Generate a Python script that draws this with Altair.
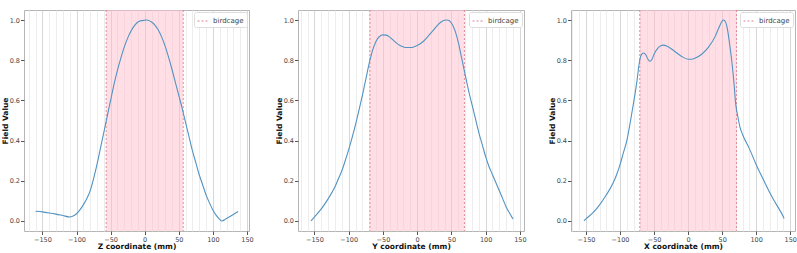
import altair as alt
import pandas as pd

# ---- data ----
z_pos = [-160, -150, -140, -130, -120, -110, -105, -100, -95, -90, -85, -80, -75, -70, -65, -60, -55, -50, -45, -40,
         -35, -30, -25, -20, -15, -10, -5, 0, 3, 5, 10, 15, 20, 25, 30, 35, 40, 45, 50, 55, 60, 65, 70, 75, 80, 85,
         90, 95, 100, 105, 110, 113, 120, 130, 137]
z_val = [0.048, 0.045, 0.040, 0.034, 0.027, 0.020, 0.025, 0.036, 0.055, 0.080, 0.11, 0.15, 0.21, 0.28, 0.36, 0.44,
         0.52, 0.60, 0.68, 0.75, 0.81, 0.865, 0.91, 0.945, 0.972, 0.99, 0.997, 0.999, 1.0, 0.999, 0.99, 0.975, 0.95,
         0.915, 0.87, 0.815, 0.755, 0.69, 0.625, 0.56, 0.49, 0.42, 0.35, 0.29, 0.23, 0.18, 0.13, 0.09, 0.055, 0.028,
         0.008, 0.0, 0.012, 0.032, 0.047]

y_pos = [-155, -150, -140, -130, -120, -115, -110, -105, -100, -95, -90, -85, -80, -75, -70, -65, -60, -55, -50, -45,
         -40, -35, -30, -25, -20, -15, -10, -5, 0, 5, 10, 15, 20, 25, 30, 35, 40, 43, 47, 50, 55, 60, 65, 70, 75, 80,
         85, 90, 95, 100, 105, 110, 115, 120, 125, 130, 135, 140]
y_val = [0.0, 0.02, 0.06, 0.11, 0.17, 0.21, 0.25, 0.30, 0.355, 0.415, 0.48, 0.55, 0.625, 0.705, 0.785, 0.85, 0.895,
         0.918, 0.926, 0.925, 0.915, 0.90, 0.885, 0.873, 0.866, 0.863, 0.863, 0.866, 0.873, 0.883, 0.897, 0.915,
         0.935, 0.955, 0.975, 0.99, 0.999, 1.0, 0.996, 0.985, 0.95, 0.89, 0.81, 0.73, 0.65, 0.58, 0.51, 0.44, 0.38,
         0.32, 0.27, 0.23, 0.19, 0.15, 0.11, 0.07, 0.038, 0.01]

x_pos = [-153, -150, -140, -130, -120, -110, -105, -100, -95, -90, -85, -80, -75, -72, -70, -68, -65, -62, -59, -56,
         -53, -50, -45, -40, -37, -30, -20, -10, 0, 5, 10, 20, 30, 40, 45, 50, 52, 55, 58, 61, 64, 67, 70, 73, 76, 80,
         90, 100, 110, 120, 130, 140, 141]
x_val = [0.0, 0.01, 0.04, 0.08, 0.13, 0.19, 0.23, 0.28, 0.34, 0.40, 0.49, 0.59, 0.70, 0.78, 0.815, 0.83, 0.836, 0.826,
         0.805, 0.795, 0.805, 0.83, 0.858, 0.872, 0.875, 0.868, 0.845, 0.82, 0.805, 0.805, 0.81, 0.83, 0.865, 0.92,
         0.96, 0.995, 1.0, 0.99, 0.95, 0.88, 0.80, 0.70, 0.58, 0.52, 0.47, 0.43, 0.36, 0.28, 0.21, 0.14, 0.08, 0.02,
         0.012]

z_cage = [-56.5, 56.5]
y_cage = [-69, 69]
x_cage = [-71, 71]

x_domains = [[-177, 153], [-174, 156], [-172, 157]]
titles = ["Z coordinate (mm)", "Y coordinate (mm)", "X coordinate (mm)"]
x_grid = list(range(-170, 160, 10))
y_ticks = [0.0, 0.2, 0.4, 0.6, 0.8, 1.0]
legend_label = "birdcage"

FONT = "DejaVu Sans"
CURVE = "#5293c2"
CAGE = "#e0808f"


def panel(pos, val, cage, dom, title, width):
    curve_df = pd.DataFrame({"pos": pos, "val": val})
    span_df = pd.DataFrame({"lo": [cage[0]], "hi": [cage[1]]})
    edge_df = pd.DataFrame({"pos": cage, "label": [legend_label] * len(cage)})

    xscale = alt.Scale(domain=dom, nice=False, zero=False)
    yscale = alt.Scale(domain=[-0.05, 1.05], nice=False, zero=False)

    xaxis = alt.Axis(
        values=x_grid,
        labelExpr="abs(datum.value) % 50 == 0 ? datum.label : ''",
        labelOverlap=False,
        labelFlush=False,
        grid=True,
        gridColor=alt.condition("abs(datum.value) % 50 == 0", alt.value("#cdcdcd"), alt.value("#e8e8e8")),
        gridWidth=0.8,
        tickSize=alt.condition("abs(datum.value) % 50 == 0", alt.value(3.5), alt.value(0)),
        tickColor="#555",
        labelFontSize=6.5,
        labelColor="#444",
        labelPadding=1.5,
        titleFontSize=7.5,
        titleFontWeight="bold",
        titleColor="#111",
        titlePadding=0,
        domain=False,
        title=title,
    )
    yaxis = alt.Axis(
        values=y_ticks,
        format=".1f",
        grid=False,
        tickSize=3.5,
        tickColor="#555",
        labelFontSize=6.5,
        labelColor="#444",
        labelPadding=1,
        titleFontSize=7.5,
        titleFontWeight="bold",
        titleColor="#111",
        titlePadding=0,
        domain=False,
        title="Field Value",
    )

    span = alt.Chart(span_df).mark_rect(fill="pink", opacity=0.5).encode(
        x=alt.X("lo:Q", scale=xscale, axis=xaxis),
        x2="hi:Q",
        y=alt.value(0),
        y2=alt.value(221),
    )
    edges = alt.Chart(edge_df).mark_rule(strokeDash=[2, 2], strokeWidth=0.9).encode(
        x=alt.X("pos:Q", scale=xscale, axis=xaxis),
        color=alt.Color(
            "label:N",
            scale=alt.Scale(domain=[legend_label], range=[CAGE]),
            legend=alt.Legend(
                title=None,
                orient="top-right",
                offset=2,
                fillColor="white",
                strokeColor="#dddddd",
                padding=3,
                cornerRadius=2,
                labelFontSize=7,
                labelColor="#444",
                labelFont=FONT,
                symbolType="stroke",
                symbolSize=120,
                symbolStrokeWidth=1,
                symbolDash=[2, 2],
            ),
        ),
    )
    line = alt.Chart(curve_df).mark_line(color=CURVE, strokeWidth=1.1, interpolate="monotone").encode(
        x=alt.X("pos:Q", scale=xscale, axis=xaxis),
        y=alt.Y("val:Q", scale=yscale, axis=yaxis),
    )
    return alt.layer(span, edges, line).properties(width=width, height=221)


p1 = panel(z_pos, z_val, z_cage, x_domains[0], titles[0], 225)
p2 = panel(y_pos, y_val, y_cage, x_domains[1], titles[1], 226)
p3 = panel(x_pos, x_val, x_cage, x_domains[2], titles[2], 224)

chart = (
    alt.hconcat(p1, p2, p3, spacing=20)
    .resolve_scale(color="independent")
    .resolve_legend(color="independent")
    .properties(padding={"left": 0, "top": 9, "right": 0, "bottom": 0})
    .configure(font=FONT)
    .configure_view(stroke="#b5b5b5", strokeWidth=1)
)

chart.save("out.html", embed_options={"renderer": "svg", "actions": False})
